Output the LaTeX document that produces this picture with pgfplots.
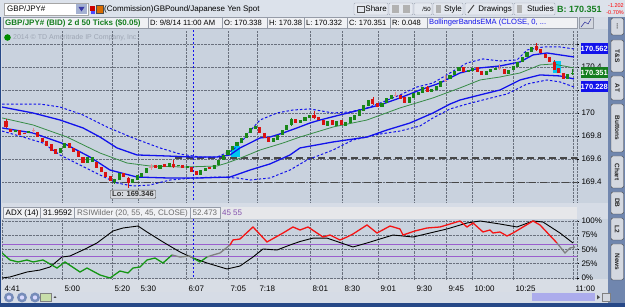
\documentclass[border=0pt]{standalone}
\usepackage{pgfplots}
\pgfplotsset{compat=1.18}
\usepackage{fontspec}
\setmainfont{Liberation Sans}
\definecolor{panelbg}{RGB}{201,210,222}
\definecolor{chrome}{RGB}{214,220,230}
\definecolor{rowA}{RGB}{220,226,235}
\definecolor{boxbg}{RGB}{240,241,244}
\definecolor{boxbd}{RGB}{150,156,168}
\definecolor{candG}{RGB}{25,135,25}
\definecolor{candR}{RGB}{218,18,18}
\definecolor{candP}{RGB}{228,140,150}
\definecolor{bandB}{RGB}{18,18,235}
\definecolor{midG}{RGB}{55,140,70}
\definecolor{rsiG}{RGB}{20,150,20}
\definecolor{rsiR}{RGB}{245,20,20}
\definecolor{purp}{RGB}{155,95,205}
\definecolor{sidebar}{RGB}{112,134,174}
\definecolor{border}{RGB}{38,72,135}
\definecolor{tabbg}{RGB}{212,216,224}
\definecolor{hilite}{RGB}{0,200,240}
\definecolor{gridc}{RGB}{105,112,125}
\definecolor{boxG}{RGB}{20,125,30}
\definecolor{ddbg}{RGB}{165,178,210}
\definecolor{ddarrow}{RGB}{55,55,165}
\definecolor{btnbd}{RGB}{160,168,182}
\definecolor{btnbg}{RGB}{228,232,239}
\definecolor{hdrbg}{RGB}{230,231,234}
\definecolor{timebg}{RGB}{216,221,229}
\definecolor{zoomc}{RGB}{118,140,185}
\definecolor{greenbtn}{RGB}{200,222,170}
\definecolor{scrollc}{RGB}{172,172,236}
\definecolor{copyc}{RGB}{158,166,180}
\definecolor{lobg}{RGB}{214,217,222}
\newcommand{\sidetab}[3]{\draw[fill=tabbg, draw=gray!50!black, rounded corners=2pt] (611,#1) rectangle (623.5,#2);
  \node[rotate=-90, font=\fontsize{6.5}{7}\selectfont\bfseries, text=black!85] at (617.25,{(#1+#2)/2}) {#3};}
\pgfplotsset{chartax/.style={scale only axis, xmin=2, xmax=577, axis line style={draw=none},
  tick label style={font=\fontsize{8}{9}\selectfont, text=black},
  grid style={densely dotted, line width=0.6pt, color=gridc},
  xmajorgrids, ymajorgrids, ytick pos=right, yticklabel pos=right, tick align=outside,
  major tick length=2pt, xtick style={draw=none}, ytick style={draw=black, line width=0.5pt},
  extra x ticks={577}, extra x tick labels={}, extra x tick style={grid=major},
  unbounded coords=jump}}
\begin{document}
\begin{tikzpicture}[x=1pt,y=1pt,font=\fontsize{8}{9.5}\selectfont]
\useasboundingbox (0,0) rectangle (625,307);
\fill[chrome] (0,0) rectangle (625,307);
% ---- row 1
\fill[rowA] (0,290) rectangle (625,307);
\draw[gray!70, fill=white] (4,292) rectangle (88,304);
\node[anchor=west, inner sep=0] at (7,298) {GBP/JPY\#};
\fill[ddbg] (76,293) rectangle (87,303);
\fill[ddarrow] (78.5,300) -- (84.5,300) -- (81.5,295.5) -- cycle;
\fill[red!80!black] (90,296) rectangle (95,301);
\fill[blue!70] (91,293) rectangle (95,296);
\fill[orange!85!black, draw=black!70] (96,294) rectangle (103,302);
\node[anchor=west, inner sep=0] at (104,298) {(Commission)GBPound/Japanese Yen Spot};
\begin{scope}[draw=btnbd, fill=btnbg, rounded corners=1pt]
\filldraw (354,292) rectangle (388,304);
\filldraw (389,292) rectangle (413,304);
\filldraw (414,292) rectangle (432,304);
\filldraw (433,292) rectangle (463,304);
\filldraw (465,292) rectangle (513,304);
\filldraw (514,292) rectangle (555,304);
\end{scope}
\draw[gray!60!black] (357,295) rectangle (364,301);
\node[anchor=east, inner sep=0] at (387,298) {Share};
\fill[gray!60] (392,294) rectangle (399,302);
\fill[gray!60] (403,294) rectangle (410,302);
\node[anchor=east, inner sep=0, font=\fontsize{6}{7}\selectfont] at (431,298) {/50};
\fill[gray!60] (436,294) rectangle (441,302);
\node[anchor=east, inner sep=0] at (462,298) {Style};
\draw[gray!60!black, line width=1pt] (468,294) -- (474,302);
\node[anchor=east, inner sep=0] at (512,298) {Drawings};
\fill[gray!60] (517,294) rectangle (522,302);
\node[anchor=east, inner sep=0] at (554,298) {Studies};
\node[anchor=west, inner sep=0, font=\fontsize{9}{10}\selectfont\bfseries, text=boxG] at (557,297.5) {B: 170.351};
\node[anchor=east, inner sep=0, font=\fontsize{5.5}{6}\selectfont, text=red] at (624,301) {-1.202};
\node[anchor=east, inner sep=0, font=\fontsize{5.5}{6}\selectfont, text=red] at (624,294.5) {-0.70\%};
% ---- row 2
\foreach \a/\b in {3/148,148/222,222/267,267/304,304/347,347/390,390/427,427/577}
  {\draw[fill=boxbg, draw=boxbd] (\a,278.5) rectangle (\b,289.5);}
\draw[fill=tabbg, draw=boxbd] (579,278.5) rectangle (593,289.5);
\draw[bandB!60!black] (581,280) -- (585,285) -- (588,283) -- (591,288);
\node[anchor=west, inner sep=0, font=\fontsize{8}{9}\selectfont\bfseries, text=boxG] at (5,284) {GBP/JPY\# (BID) 2 d 50 Ticks (\$0.05)};
\begin{scope}[font=\fontsize{7.6}{9}\selectfont]
\node[anchor=west, inner sep=0] at (150,284) {D: 9/8/14 11:00 AM};
\node[anchor=west, inner sep=0] at (224,284) {O: 170.338};
\node[anchor=west, inner sep=0] at (269,284) {H: 170.38};
\node[anchor=west, inner sep=0] at (306,284) {L: 170.332};
\node[anchor=west, inner sep=0] at (349,284) {C: 170.351};
\node[anchor=west, inner sep=0] at (392,284) {R: 0.048};
\node[anchor=west, inner sep=0, text=bandB] at (429,284) {BollingerBandsEMA (CLOSE, 0, ...};
\end{scope}
% ---- panels background
\fill[panelbg] (2,104) rectangle (608,277.5);
\fill[panelbg] (2,28) rectangle (608,88);
\fill[hdrbg] (2,88) rectangle (577,100);
\fill[timebg] (2,15) rectangle (608,28);
% ---- sidebar
\fill[sidebar] (608,4) rectangle (625,290);
\sidetab{272}{289}{...}
\sidetab{235}{267}{T\&S}
\sidetab{207}{231}{AT}
\sidetab{155}{203}{Buttons}
\sidetab{119}{151}{Chart}
\sidetab{93}{115}{DB}
\sidetab{67}{89}{L2}
\sidetab{27}{63}{News}
% ---- bottom bar and frame
\fill[border] (0,0) rectangle (625,3.5);
\fill[border] (0,0) rectangle (1.2,290);
\foreach \cx in {9,22,35} {\fill[zoomc] (\cx,9.5) circle (5);
  \fill[white!85!blue] (\cx,9.5) circle (2.2);}
\draw[fill=greenbtn, draw=gray] (40,6) rectangle (51,13.5);
\fill[black!70] (53.5,9) -- (56.5,9) -- (55,11) -- cycle;
\fill[scrollc] (532,6) rectangle (595,13.5);
\fill[black!70] (597,7.5) -- (597,12) -- (600,9.75) -- cycle;
\draw[fill=tabbg, draw=gray] (602,5.5) rectangle (610,14);
% copyright
\fill[green!55!black] (7.5,269.5) circle (3.3);
\node[anchor=west, inner sep=0, font=\fontsize{7}{8}\selectfont, text=copyc] at (13,269) {2014 \textcopyright{} TD Ameritrade IP Company, Inc.};
% ================= UPPER PANEL
\begin{axis}[chartax, at={(2pt,105pt)}, anchor=south west, width=575pt, height=171pt,
  ymin=169.226, ymax=170.713,
  xtick={62,112,138,186,228,257,310,342,378,414,446,472,513,573}, xticklabels={},
  ytick={169.4,169.6,169.8,170,170.2,170.4,170.6},
  yticklabels={169.4,169.6,169.8,170,170.2,170.4,{}},
  yticklabel style={anchor=west, xshift=-1pt}]
% highlights
\addplot[fill=hilite, draw=none] coordinates {(230.5,169.617) (239.5,169.617) (239.5,169.713) (230.5,169.713)};
\addplot[fill=hilite, draw=none] coordinates {(552.5,170.348) (561,170.348) (561,170.452) (552.5,170.452)};
% support lines
\addplot[black!72, line width=1.3pt, dash pattern=on 7pt off 4pt] coordinates {(175,169.609) (577,169.609)};
\addplot[black!72, line width=1.3pt, dash pattern=on 7pt off 4pt] coordinates {(100,169.396) (577,169.396)};
% cursor
\addplot[bandB, line width=0.8pt, dash pattern=on 2pt off 2pt] coordinates {(193,169.1) (193,170.8)};
% bands
\addplot[midG, line width=0.8pt] coordinates {(2,169.957) (33,169.896) (67,169.791) (100,169.652) (127,169.565) (150,169.539) (183,169.530) (217,169.539) (227,169.565) (243,169.617) (260,169.678) (283,169.739) (300,169.791) (333,169.878) (367,169.939) (400,170.044) (433,170.131) (460,170.218) (480,170.287) (500,170.313) (520,170.348) (540,170.418) (553,170.426) (574,170.392)};
\addplot[bandB, line width=1.3pt] coordinates {(2,170.052) (33,170.000) (60,169.939) (83,169.870) (100,169.791) (117,169.696) (137,169.635) (167,169.626) (193,169.617) (217,169.617) (230,169.635) (240,169.696) (250,169.739) (260,169.783) (270,169.791) (283,169.826) (297,169.870) (310,169.913) (320,169.939) (340,169.983) (360,170.026) (380,170.070) (400,170.131) (420,170.200) (440,170.261) (460,170.348) (480,170.392) (500,170.409) (520,170.444) (533,170.505) (547,170.522) (560,170.505) (574,170.487)};
\addplot[bandB, line width=1.3pt] coordinates {(2,169.870) (33,169.826) (67,169.722) (90,169.617) (110,169.504) (137,169.443) (167,169.435) (200,169.435) (230,169.443) (250,169.504) (270,169.557) (290,169.635) (300,169.696) (333,169.748) (367,169.791) (387,169.852) (410,169.913) (433,170.000) (450,170.078) (460,170.113) (480,170.157) (500,170.200) (520,170.287) (540,170.331) (560,170.322) (574,170.296)};
\addplot[bandB, line width=1pt, dash pattern=on 2.5pt off 2pt] coordinates {(2,170.078) (40,170.078) (60,170.052) (83,169.983) (107,169.878) (133,169.783) (160,169.696) (180,169.643) (200,169.617) (217,169.617) (233,169.678) (243,169.765) (250,169.843) (260,169.939) (277,170.000) (293,170.026) (310,170.035) (333,170.000) (350,170.009) (367,170.044) (383,170.096) (400,170.157) (417,170.226) (433,170.261) (450,170.348) (467,170.435) (483,170.470) (500,170.452) (517,170.461) (527,170.548) (543,170.574) (560,170.574) (574,170.557)};
\addplot[bandB, line width=1pt, dash pattern=on 2.5pt off 2pt] coordinates {(2,169.843) (23,169.791) (43,169.739) (60,169.635) (80,169.548) (100,169.461) (117,169.391) (133,169.365) (150,169.374) (170,169.417) (193,169.435) (217,169.443) (237,169.435) (250,169.417) (270,169.435) (290,169.504) (307,169.591) (333,169.678) (353,169.765) (380,169.817) (400,169.843) (420,169.887) (433,169.957) (450,170.035) (467,170.078) (487,170.122) (507,170.165) (527,170.252) (547,170.287) (560,170.270) (574,170.226)};
% wicks
\addplot[candR, line width=0.8pt] coordinates {(6,169.95) (6,169.87) (6,nan) (128.3,169.44) (128.3,169.346) (128.3,nan) (173.6,169.591) (173.6,169.525) (173.6,nan) (314,170.017) (314,169.95) (314,nan) (372.9,170.139) (372.9,170.07) (372.9,nan) (427.3,170.235) (427.3,170.18) (427.3,nan) (536.1,170.609) (536.1,170.54) (536.1,nan) (554.2,170.46) (554.2,170.37)};
\addplot[candG, line width=0.8pt] coordinates {(114.7,169.43) (114.7,169.38) (114.7,nan) (291.4,169.96) (291.4,169.89) (291.4,nan) (572.3,170.38) (572.3,170.332)};
\addplot[candP, line width=0.8pt] coordinates {(33.2,169.87) (33.2,169.83) (33.2,nan) (151,169.557) (151,169.504) (151,nan) (395.6,170.183) (395.6,170.139) (395.6,nan) (445.4,170.331) (445.4,170.270) (445.4,nan) (499.8,170.426) (499.8,170.374)};
% candle bodies
\addplot[candR, line width=3.1pt, line cap=butt] coordinates {
(6.0,169.930)(6.0,169.878)(6.0,nan) (10.5,169.861)(10.5,169.835)(10.5,nan) (19.6,169.852)(19.6,169.809)(19.6,nan)
(24.1,169.826)(24.1,169.817)(24.1,nan) (37.7,169.835)(37.7,169.791)(37.7,nan) (42.2,169.783)(42.2,169.748)(42.2,nan)
(46.8,169.757)(46.8,169.713)(46.8,nan) (51.3,169.730)(51.3,169.670)(51.3,nan) (55.8,169.687)(55.8,169.643)(55.8,nan)
(69.4,169.739)(69.4,169.696)(69.4,nan) (73.9,169.696)(73.9,169.661)(73.9,nan) (78.5,169.670)(78.5,169.617)(78.5,nan)
(83.0,169.617)(83.0,169.565)(83.0,nan) (96.6,169.574)(96.6,169.522)(96.6,nan) (101.1,169.530)(101.1,169.487)(101.1,nan)
(105.7,169.487)(105.7,169.443)(105.7,nan) (110.2,169.452)(110.2,169.409)(110.2,nan) (123.8,169.478)(123.8,169.443)(123.8,nan)
(128.3,169.435)(128.3,169.391)(128.3,nan) (155.5,169.548)(155.5,169.522)(155.5,nan) (164.5,169.557)(164.5,169.530)(164.5,nan)
(173.6,169.557)(173.6,169.530)(173.6,nan) (182.7,169.548)(182.7,169.522)(182.7,nan) (191.7,169.530)(191.7,169.487)(191.7,nan)
(196.2,169.496)(196.2,169.461)(196.2,nan) (209.8,169.530)(209.8,169.513)(209.8,nan) (259.7,169.878)(259.7,169.826)(259.7,nan)
(264.2,169.826)(264.2,169.783)(264.2,nan) (268.7,169.791)(268.7,169.748)(268.7,nan) (295.9,169.948)(295.9,169.913)(295.9,nan)
(314.0,169.983)(314.0,169.957)(314.0,nan) (318.6,169.965)(318.6,169.939)(318.6,nan) (323.1,169.939)(323.1,169.896)(323.1,nan)
(332.2,169.939)(332.2,169.896)(332.2,nan) (341.2,169.939)(341.2,169.896)(341.2,nan) (372.9,170.122)(372.9,170.078)(372.9,nan)
(377.5,170.087)(377.5,170.052)(377.5,nan) (400.1,170.157)(400.1,170.122)(400.1,nan) (404.7,170.139)(404.7,170.087)(404.7,nan)
(427.3,170.226)(427.3,170.183)(427.3,nan) (463.6,170.400)(463.6,170.357)(463.6,nan) (477.2,170.400)(477.2,170.357)(477.2,nan)
(481.7,170.365)(481.7,170.331)(481.7,nan) (504.3,170.383)(504.3,170.339)(504.3,nan) (536.1,170.583)(536.1,170.548)(536.1,nan)
(540.6,170.557)(540.6,170.522)(540.6,nan) (545.1,170.513)(545.1,170.479)(545.1,nan) (549.6,170.487)(549.6,170.444)(549.6,nan)
(554.2,170.444)(554.2,170.374)(554.2,nan) (558.7,170.392)(558.7,170.348)(558.7,nan) (563.2,170.348)(563.2,170.296)};
\addplot[candG, line width=3.1pt, line cap=butt] coordinates {
(15.1,169.835)(15.1,169.852)(15.1,nan) (28.7,169.826)(28.7,169.843)(28.7,nan) (60.4,169.652)(60.4,169.696)(60.4,nan)
(64.9,169.696)(64.9,169.739)(64.9,nan) (87.5,169.565)(87.5,169.617)(87.5,nan) (92.1,169.574)(92.1,169.617)(92.1,nan)
(114.7,169.400)(114.7,169.426)(114.7,nan) (119.2,169.417)(119.2,169.478)(119.2,nan) (132.8,169.391)(132.8,169.426)(132.8,nan)
(137.4,169.417)(137.4,169.461)(137.4,nan) (141.9,169.443)(141.9,169.478)(141.9,nan) (146.4,169.478)(146.4,169.522)(146.4,nan)
(160.0,169.513)(160.0,169.548)(160.0,nan) (169.1,169.530)(169.1,169.565)(169.1,nan) (178.1,169.539)(178.1,169.548)(178.1,nan)
(187.2,169.522)(187.2,169.539)(187.2,nan) (200.8,169.461)(200.8,169.504)(200.8,nan) (205.3,169.496)(205.3,169.522)(205.3,nan)
(214.4,169.513)(214.4,169.548)(214.4,nan) (218.9,169.548)(218.9,169.591)(218.9,nan) (223.4,169.591)(223.4,169.635)(223.4,nan)
(228.0,169.635)(228.0,169.678)(228.0,nan) (232.5,169.678)(232.5,169.713)(232.5,nan) (237.0,169.713)(237.0,169.748)(237.0,nan)
(241.6,169.739)(241.6,169.783)(241.6,nan) (246.1,169.783)(246.1,169.826)(246.1,nan) (250.6,169.826)(250.6,169.870)(250.6,nan)
(255.1,169.861)(255.1,169.887)(255.1,nan) (273.3,169.748)(273.3,169.783)(273.3,nan) (277.8,169.765)(277.8,169.809)(277.8,nan)
(282.3,169.809)(282.3,169.852)(282.3,nan) (286.9,169.852)(286.9,169.896)(286.9,nan) (291.4,169.896)(291.4,169.948)(291.4,nan)
(300.5,169.913)(300.5,169.939)(300.5,nan) (305.0,169.930)(305.0,169.965)(305.0,nan) (309.5,169.957)(309.5,169.983)(309.5,nan)
(327.6,169.887)(327.6,169.930)(327.6,nan) (336.7,169.887)(336.7,169.930)(336.7,nan) (345.8,169.887)(345.8,169.922)(345.8,nan)
(350.3,169.913)(350.3,169.965)(350.3,nan) (354.8,169.939)(354.8,169.983)(354.8,nan) (359.4,169.974)(359.4,170.026)(359.4,nan)
(363.9,170.017)(363.9,170.070)(363.9,nan) (368.4,170.061)(368.4,170.113)(368.4,nan) (382.0,170.052)(382.0,170.087)(382.0,nan)
(386.5,170.087)(386.5,170.131)(386.5,nan) (391.1,170.122)(391.1,170.157)(391.1,nan) (409.2,170.087)(409.2,170.139)(409.2,nan)
(413.7,170.131)(413.7,170.174)(413.7,nan) (418.3,170.157)(418.3,170.183)(418.3,nan) (422.8,170.174)(422.8,170.226)(422.8,nan)
(431.8,170.183)(431.8,170.209)(431.8,nan) (436.4,170.200)(436.4,170.235)(436.4,nan) (440.9,170.226)(440.9,170.278)(440.9,nan)
(450.0,170.296)(450.0,170.331)(450.0,nan) (454.5,170.331)(454.5,170.365)(454.5,nan) (459.0,170.365)(459.0,170.400)(459.0,nan)
(468.1,170.357)(468.1,170.374)(468.1,nan) (472.6,170.365)(472.6,170.392)(472.6,nan) (486.2,170.331)(486.2,170.365)(486.2,nan)
(490.7,170.357)(490.7,170.383)(490.7,nan) (495.3,170.374)(495.3,170.392)(495.3,nan) (508.9,170.339)(508.9,170.374)(508.9,nan)
(513.4,170.374)(513.4,170.409)(513.4,nan) (517.9,170.400)(517.9,170.444)(517.9,nan) (522.5,170.444)(522.5,170.487)(522.5,nan)
(527.0,170.487)(527.0,170.531)(527.0,nan) (531.5,170.531)(531.5,170.574)(531.5,nan) (567.8,170.296)(567.8,170.339)(567.8,nan)
(572.3,170.338)(572.3,170.351)};
\addplot[candP, line width=3.1pt, line cap=butt] coordinates {
(33.2,169.852)(33.2,169.843)(33.2,nan) (151.0,169.530)(151.0,169.522)(151.0,nan) (395.6,170.157)(395.6,170.150)(395.6,nan)
(445.4,170.283)(445.4,170.275)(445.4,nan) (499.8,170.395)(499.8,170.388)};
\end{axis}
% price boxes
\node[anchor=west, fill=bandB, text=white, font=\fontsize{7.5}{8}\selectfont\bfseries, inner sep=0, minimum width=27pt, minimum height=11.5pt] at (580.5,258.5) {170.562};
\node[anchor=west, fill=boxG, text=white, font=\fontsize{7.5}{8}\selectfont\bfseries, inner sep=0, minimum width=27pt, minimum height=11.5pt] at (580.5,234.5) {170.351};
\node[anchor=west, fill=bandB, text=white, font=\fontsize{7.5}{8}\selectfont\bfseries, inner sep=0, minimum width=27pt, minimum height=11.5pt] at (580.5,220.5) {170.228};
% Lo label
\node[anchor=north west, draw=gray!55!black, fill=lobg, rounded corners=1pt, inner xsep=2pt, inner ysep=1.5pt, font=\fontsize{7.5}{8}\selectfont\bfseries, text=black!80] at (110,117) {Lo: 169.346};
% ---- lower header
\foreach \a/\b in {3/40.5,40.5/74.5,74.5/190.5,190.5/220}
  {\draw[fill=boxbg, draw=boxbd] (\a,88.5) rectangle (\b,99.5);}
\node[anchor=west, inner sep=0] at (5.5,94) {ADX (14)};
\node[anchor=west, inner sep=0] at (43,94) {31.9592};
\node[anchor=west, inner sep=0, text=gray!85!black] at (77,94) {RSIWilder (20, 55, 45, CLOSE)};
\node[anchor=west, inner sep=0, text=gray!85!black] at (192.5,94) {52.473};
\node[anchor=west, inner sep=0, text=purp!85!black] at (222,94) {45};
\node[anchor=west, inner sep=0, text=purp!85!black] at (233,94) {55};
% ================= LOWER PANEL
\begin{axis}[chartax, at={(2pt,28pt)}, anchor=south west, width=575pt, height=60pt,
  ymin=-1.75, ymax=103.5,
  xtick={2,62,112,138,186,228,257,310,342,378,414,446,472,513,573},
  xticklabels={4:41,5:00,5:20,5:30,6:07,7:05,7:18,8:01,8:30,9:01,9:30,9:45,10:00,10:25,11:00},
  xticklabel style={anchor=north west, xshift=-1pt, yshift=-1.5pt},
  ytick={0,25,50,75,100}, yticklabels={0\%,25\%,50\%,75\%,100\%},
  yticklabel style={anchor=west, xshift=-1pt}]
\addplot[purp, line width=0.8pt] coordinates {(2,59.6) (577,59.6)};
\addplot[purp, line width=0.8pt] coordinates {(2,38.6) (577,38.6)};
\addplot[bandB, line width=0.8pt, dash pattern=on 2pt off 2pt] coordinates {(193,-5) (193,110)};
\addplot[black, line width=0.9pt] coordinates {(2,0) (10,1.8) (27,10.5) (40,14) (50,19.3) (62,36.8) (70,38.6) (83,49.1) (97,61.4) (113,82.5) (123,87.7) (138,91.2) (147,80.7) (163,63.2) (180,45.6) (193,35.1) (207,26.3) (227,15.8) (240,21) (253,36.8) (263,50.9) (277,49.1) (290,57.9) (300,64) (313,70) (327,70) (353,54.4) (367,61.4) (380,68.4) (393,75.4) (413,71.9) (430,78.9) (447,86) (467,96.5) (480,100) (500,94.7) (517,89.5) (533,100) (543,98.2) (560,78.9) (573,61.4)};
\addplot[rsiG, line width=1.3pt] coordinates {(2,43.9) (10,31.6) (18,28.1) (27,31.6) (33,28.1) (43,31.6) (57,17.5) (65,28.1) (80,10.5) (87,17.5) (100,5.3) (110,0) (120,12.3) (128,8.8) (133,17.5) (140,19.3) (147,31.6) (155,35.1) (163,26.3) (172,40.4)};
\addplot[gray, line width=1.3pt] coordinates {(172,40.4) (180,36.8) (190,38.6) (193,35.1)};
\addplot[rsiG, line width=1.3pt] coordinates {(193,35.1) (200,28.1) (207,36.8)};
\addplot[gray, line width=1.3pt] coordinates {(207,36.8) (213,40.4) (220,43.9) (230,57.9)};
\addplot[rsiR, line width=1.3pt] coordinates {(230,57.9) (233,66.7) (240,68.4) (253,89.5) (267,63.2) (283,78.9) (293,89.5) (300,84.2) (308,89.5) (323,71.9) (330,75.4) (340,66.7) (347,71.9) (353,77.2) (367,93) (377,78.9) (390,91.2) (400,86) (403,75.4) (415,82.5) (427,87.7) (440,89.5) (460,100) (467,89.5) (473,96.5) (483,80.7) (490,84.2) (493,78.9) (500,80.7) (507,73.7) (513,78.9) (533,100) (540,93) (557,61.4)};
\addplot[gray, line width=1.3pt] coordinates {(557,61.4) (565,43.9) (570,52.6) (575,54.4)};
\end{axis}
\end{tikzpicture}
\end{document}
